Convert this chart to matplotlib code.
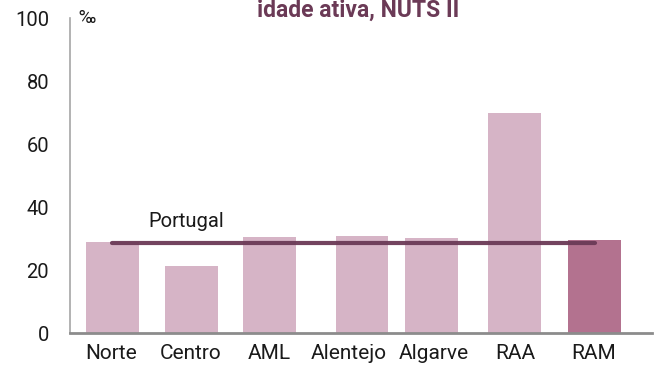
import matplotlib.pyplot as plt

plt.rcParams['font.family'] = ['Roboto', 'DejaVu Sans']

# Taxa por região NUTS II (‰)
regioes = ['Norte', 'Centro', 'AML', 'Alentejo', 'Algarve', 'RAA', 'RAM']
valores = [28.9, 21.3, 30.5, 30.8, 30.1, 69.8, 29.5]
portugal = 28.7

# posição horizontal de cada barra e de cada rótulo
pos = [0.53, 1.52, 2.49, 3.65, 4.52, 5.56, 6.56]
pos_rotulos = [0.52, 1.51, 2.49, 3.49, 4.55, 5.56, 6.55]
cores = ['#d6b4c6'] * 6 + ['#b3728f']

fig = plt.figure(figsize=(6.62, 3.74), dpi=100)
ax = fig.add_axes([0.1057, 0.1096, 0.8793, 0.841])

ax.bar(pos, valores, width=0.66, color=cores, zorder=2)
ax.plot([pos[0], pos[-1]], [portugal, portugal], color='#6b3a56', lw=3,
        alpha=0.95, solid_capstyle='round', zorder=3)
ax.text(1.45, portugal + 5, 'Portugal', ha='center', va='baseline',
        fontsize=14.5, color='#1a1a1a')

ax.set_xlim(0, 7.275)
ax.set_ylim(0, 100)
ax.set_yticks(range(0, 101, 20))
ax.set_xticks(pos_rotulos)
ax.set_xticklabels(regioes)
ax.tick_params(axis='y', length=0, pad=15, labelsize=14.5, labelcolor='#1a1a1a')
ax.tick_params(axis='x', length=0, pad=8, labelsize=15, labelcolor='#1a1a1a')

for s in ['top', 'right']:
    ax.spines[s].set_visible(False)
ax.spines['left'].set_color('#a6a6a6')
ax.spines['left'].set_linewidth(1.2)
ax.spines['bottom'].set_color('#8c8c8c')
ax.spines['bottom'].set_linewidth(2)

fig.text(0.119, 0.953, '‰', fontsize=13, ha='left', va='center', color='#1a1a1a')
fig.text(0.541, 0.955, 'idade ativa, NUTS II', fontsize=16.5, fontweight='bold',
         color='#6b3a56', ha='center', va='baseline')

fig.savefig('out.png', dpi=100)
